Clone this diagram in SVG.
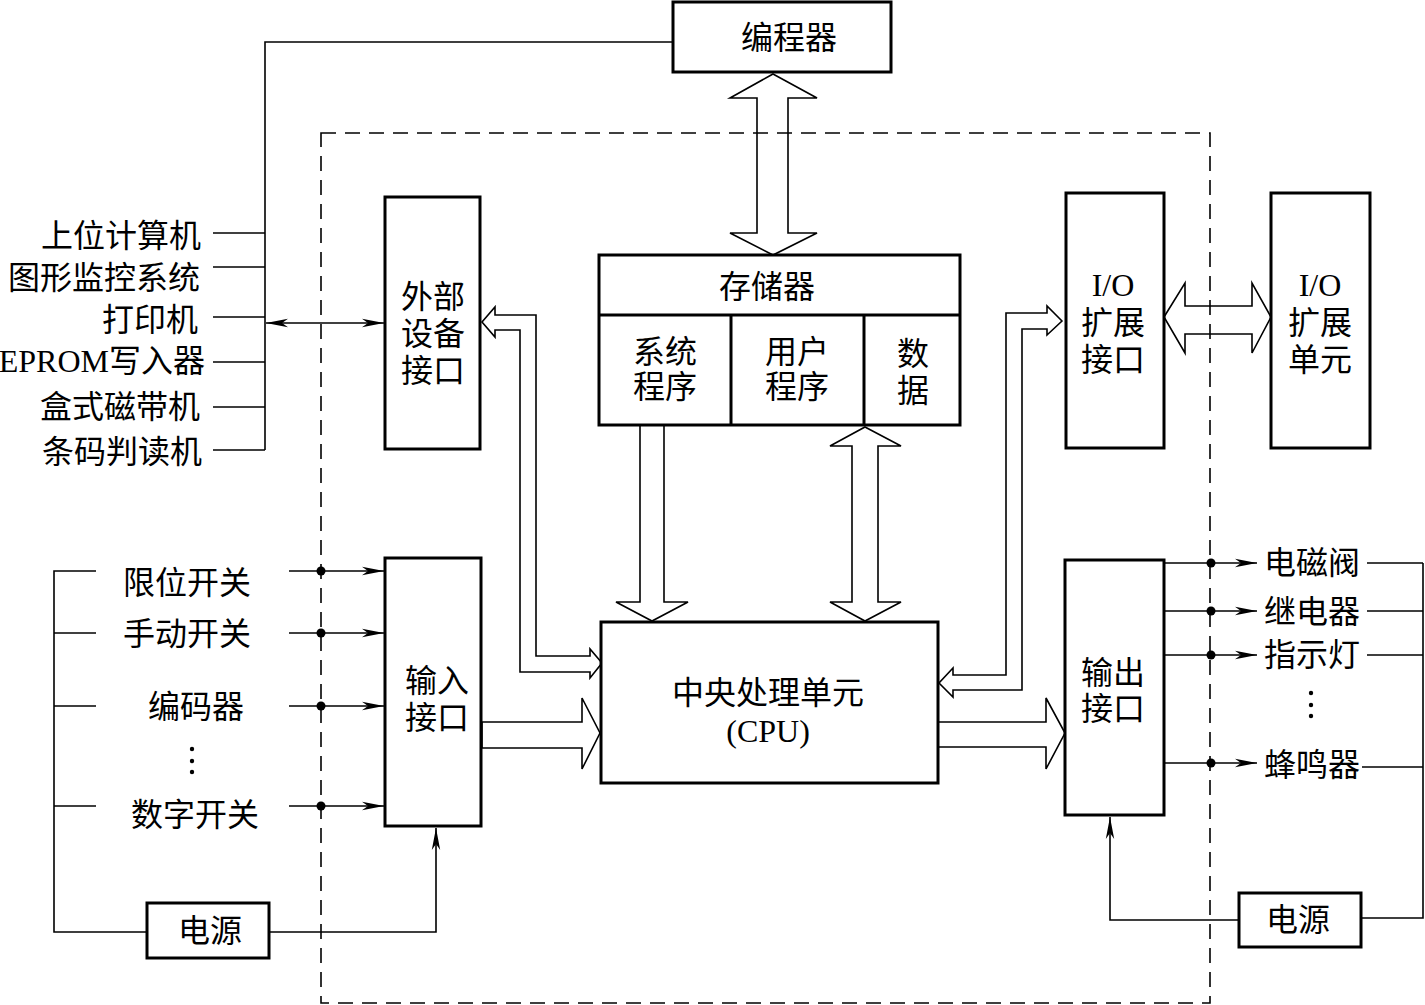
<svg xmlns="http://www.w3.org/2000/svg" width="1425" height="1005" viewBox="0 0 1425 1005">
<style>
  .box { fill: #fff; stroke: #000; stroke-width: 3; }
  .thin { fill: none; stroke: #000; stroke-width: 1.6; }
  .hollow { fill: none; stroke: #000; stroke-width: 1.6; stroke-linejoin: miter; }
  .dash { fill: none; stroke: #000; stroke-width: 1.6; stroke-dasharray: 15 9; }
  .t { font-family: "Liberation Serif", "Noto Sans CJK SC", serif; font-size: 32px; fill: #000; }
  .c { text-anchor: middle; }
  .e { text-anchor: end; }
  .dot { fill: #000; }
</style>
<defs>
  <marker id="ah" viewBox="0 0 22 10" refX="22" refY="5" markerWidth="22" markerHeight="10" markerUnits="userSpaceOnUse" orient="auto-start-reverse">
    <path d="M0,0.8 L22,5 L0,9.2 L6,5 Z" fill="#000"/>
  </marker>
</defs>
<rect width="1425" height="1005" fill="#fff"/>

<!-- dashed boundary -->
<rect class="dash" x="321" y="133" width="889" height="870"/>

<g id="connectors">
  <!-- programmer to left bus -->
  <polyline class="thin" points="673,42 265,42 265,450"/>
  <line class="thin" x1="213" y1="233" x2="265" y2="233"/>
  <line class="thin" x1="213" y1="267" x2="265" y2="267"/>
  <line class="thin" x1="213" y1="317" x2="265" y2="317"/>
  <line class="thin" x1="213" y1="362" x2="265" y2="362"/>
  <line class="thin" x1="213" y1="407" x2="265" y2="407"/>
  <line class="thin" x1="213" y1="450" x2="265" y2="450"/>
  <line class="thin" x1="266" y1="323" x2="384" y2="323" marker-start="url(#ah)" marker-end="url(#ah)"/>

  <!-- hollow bus arrows -->
  <polygon class="hollow" points="773,74 817,98 788,98 788,233 817,233 773,255 730,233 757,233 757,98 730,98"/>
  <polygon class="hollow" points="640,425 664,425 664,602 688,602 652,621 616,602 640,602"/>
  <polygon class="hollow" points="865,427 901,446 878,446 878,602 901,602 865,621 830,602 852,602 852,446 830,446"/>
  <polygon class="hollow" points="482,722 582,722 582,698 600,733 582,769 582,748 482,748"/>
  <polygon class="hollow" points="938,722 1046,722 1046,698 1065,733 1046,769 1046,747 938,747"/>
  <polygon class="hollow" points="1164,317 1185,283 1185,306 1252,306 1252,283 1271,317 1252,353 1252,334 1185,334 1185,353"/>
  <polygon class="hollow" points="482,322 495,307 495,315 536,315 536,656 590,656 590,649 602,663 590,678 590,672 520,672 520,330 495,330 495,337"/>
  <polygon class="hollow" points="1062,321 1047,306 1047,313 1006,313 1006,675 953,675 953,668 939,683 953,697 953,690 1022,690 1022,329 1047,329 1047,335"/>

  <!-- input side -->
  <polyline class="thin" points="96,571 54,571 54,932 147,932"/>
  <line class="thin" x1="54" y1="633" x2="96" y2="633"/>
  <line class="thin" x1="54" y1="706" x2="96" y2="706"/>
  <line class="thin" x1="54" y1="806" x2="96" y2="806"/>
  <line class="thin" x1="289" y1="571" x2="384" y2="571" marker-end="url(#ah)"/>
  <line class="thin" x1="289" y1="633" x2="384" y2="633" marker-end="url(#ah)"/>
  <line class="thin" x1="289" y1="706" x2="384" y2="706" marker-end="url(#ah)"/>
  <line class="thin" x1="289" y1="806" x2="384" y2="806" marker-end="url(#ah)"/>
  <circle class="dot" cx="321" cy="571" r="4.5"/>
  <circle class="dot" cx="321" cy="633" r="4.5"/>
  <circle class="dot" cx="321" cy="706" r="4.5"/>
  <circle class="dot" cx="321" cy="806" r="4.5"/>
  <polyline class="thin" points="269,932 436,932 436,828" marker-end="url(#ah)"/>

  <!-- output side -->
  <line class="thin" x1="1164" y1="563" x2="1257" y2="563" marker-end="url(#ah)"/>
  <line class="thin" x1="1164" y1="611" x2="1257" y2="611" marker-end="url(#ah)"/>
  <line class="thin" x1="1164" y1="655" x2="1257" y2="655" marker-end="url(#ah)"/>
  <line class="thin" x1="1164" y1="763" x2="1257" y2="763" marker-end="url(#ah)"/>
  <circle class="dot" cx="1211" cy="563" r="4.5"/>
  <circle class="dot" cx="1211" cy="611" r="4.5"/>
  <circle class="dot" cx="1211" cy="655" r="4.5"/>
  <circle class="dot" cx="1211" cy="763" r="4.5"/>
  <line class="thin" x1="1367" y1="563" x2="1423" y2="563"/>
  <line class="thin" x1="1367" y1="611" x2="1423" y2="611"/>
  <line class="thin" x1="1367" y1="655" x2="1423" y2="655"/>
  <line class="thin" x1="1362" y1="767" x2="1423" y2="767"/>
  <polyline class="thin" points="1423,563 1423,918 1361,918"/>
  <polyline class="thin" points="1239,920 1110,920 1110,817" marker-end="url(#ah)"/>
</g>

<g id="programmer">
  <rect class="box" x="673" y="2" width="218" height="70"/>
  <text class="t c" x="789" y="49">编程器</text>
</g>

<g id="external-interface">
  <rect class="box" x="385" y="197" width="95" height="252"/>
  <text class="t c" x="433" y="308">外部</text>
  <text class="t c" x="433" y="345">设备</text>
  <text class="t c" x="433" y="382">接口</text>
</g>

<g id="memory">
  <rect class="box" x="599" y="255" width="361" height="170"/>
  <line class="box" x1="599" y1="315" x2="960" y2="315"/>
  <line class="box" x1="731" y1="315" x2="731" y2="425"/>
  <line class="box" x1="864" y1="315" x2="864" y2="425"/>
  <text class="t c" x="767" y="298">存储器</text>
  <text class="t c" x="665" y="363">系统</text>
  <text class="t c" x="665" y="398">程序</text>
  <text class="t c" x="797" y="363">用户</text>
  <text class="t c" x="797" y="398">程序</text>
  <text class="t c" x="913" y="365">数</text>
  <text class="t c" x="913" y="402">据</text>
</g>

<g id="io-expansion-interface">
  <rect class="box" x="1066" y="193" width="98" height="255"/>
  <text class="t c" x="1113" y="296">I/O</text>
  <text class="t c" x="1113" y="334">扩展</text>
  <text class="t c" x="1113" y="371">接口</text>
</g>

<g id="io-expansion-unit">
  <rect class="box" x="1271" y="193" width="99" height="255"/>
  <text class="t c" x="1320" y="296">I/O</text>
  <text class="t c" x="1320" y="334">扩展</text>
  <text class="t c" x="1320" y="371">单元</text>
</g>

<g id="cpu">
  <rect class="box" x="601" y="622" width="337" height="161"/>
  <text class="t c" x="768" y="704">中央处理单元</text>
  <text class="t c" x="768" y="742">(CPU)</text>
</g>

<g id="input-interface">
  <rect class="box" x="385" y="558" width="96" height="268"/>
  <text class="t c" x="437" y="692">输入</text>
  <text class="t c" x="437" y="729">接口</text>
</g>

<g id="output-interface">
  <rect class="box" x="1065" y="560" width="99" height="255"/>
  <text class="t c" x="1113" y="684">输出</text>
  <text class="t c" x="1113" y="720">接口</text>
</g>

<g id="power-left">
  <rect class="box" x="147" y="903" width="122" height="55"/>
  <text class="t c" x="210" y="942">电源</text>
</g>

<g id="power-right">
  <rect class="box" x="1239" y="893" width="122" height="54"/>
  <text class="t c" x="1298" y="931">电源</text>
</g>

<g id="host-devices">
  <text class="t e" x="201" y="247">上位计算机</text>
  <text class="t e" x="200" y="289">图形监控系统</text>
  <text class="t e" x="198" y="331">打印机</text>
  <text class="t e" x="205" y="372">EPROM写入器</text>
  <text class="t e" x="200" y="418">盒式磁带机</text>
  <text class="t e" x="202" y="463">条码判读机</text>
</g>

<g id="inputs">
  <text class="t c" x="187" y="594">限位开关</text>
  <text class="t c" x="187" y="645">手动开关</text>
  <text class="t c" x="196" y="718">编码器</text>
  <circle class="dot" cx="192" cy="749" r="2.2"/>
  <circle class="dot" cx="192" cy="761" r="2.2"/>
  <circle class="dot" cx="192" cy="772" r="2.2"/>
  <text class="t c" x="195" y="826">数字开关</text>
</g>

<g id="outputs">
  <text class="t c" x="1312" y="574">电磁阀</text>
  <text class="t c" x="1312" y="623">继电器</text>
  <text class="t c" x="1312" y="666">指示灯</text>
  <circle class="dot" cx="1311" cy="693" r="2.2"/>
  <circle class="dot" cx="1311" cy="705" r="2.2"/>
  <circle class="dot" cx="1311" cy="716" r="2.2"/>
  <text class="t c" x="1312" y="776">蜂鸣器</text>
</g>
</svg>
